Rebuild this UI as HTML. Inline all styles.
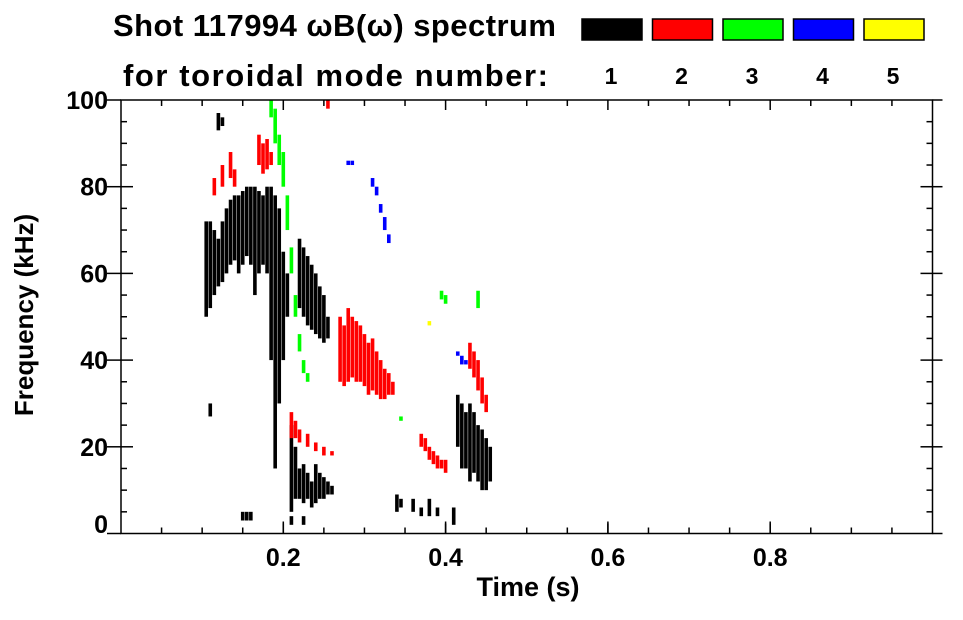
<!DOCTYPE html>
<html><head><meta charset="utf-8"><style>
body{margin:0;background:#fff;}
svg text{font-family:"Liberation Sans",sans-serif;font-weight:bold;fill:#000;}
</style></head><body>
<svg id="c" width="963" height="615" viewBox="0 0 963 615">
<text x="113" y="36" font-size="31" textLength="443">Shot 117994 ωB(ω) spectrum</text>
<text x="123" y="86" font-size="31" textLength="425">for toroidal mode number:</text>
<g id="legend"></g>
<g id="marks"></g>
<g id="axes"></g>
<text x="528" y="596" font-size="27" text-anchor="middle">Time (s)</text>
<text transform="translate(33,315) rotate(-90)" font-size="26" text-anchor="middle">Frequency (kHz)</text>
</svg>
<script>
const modeColors=['#000000','#ff0000','#00ff00','#0000ff','#ffff00'];
const modeLabels=['1','2','3','4','5'];
const xTicks=[0.2,0.4,0.6,0.8];
const yTicks=[0,20,40,60,80,100];
// columns: [time s, fLow kHz, fHigh kHz]
const mode1=[[0.105,50,72],[0.110,52,72],[0.115,55,70],[0.120,57,68],[0.125,58,72],[0.130,60,75],[0.135,62,77],[0.140,63,78],[0.145,60,78],[0.150,62,79],[0.155,64,80],[0.160,62,80],[0.165,55,80],[0.170,60,79],[0.175,62,78],[0.180,60,80],[0.185,40,80],[0.190,15,78],[0.195,30,75],[0.200,40,65],[0.205,50,60],
[0.120,93,97],[0.125,94,96],[0.110,27,30],
[0.220,52,68],[0.225,50,66],[0.230,48,64],[0.235,47,62],[0.240,46,60],[0.245,45,57],[0.250,44,55],[0.255,45,50],
[0.210,5,25],[0.215,8,20],[0.220,8,15],[0.225,7,16],[0.230,8,14],[0.235,6,12],[0.240,7,16],[0.245,8,14],[0.250,8,13],[0.255,9,12],[0.260,9,11],
[0.150,3,5],[0.155,3,5],[0.160,3,5],[0.210,2,4],[0.225,2,4],
[0.340,5,9],[0.345,6,8],[0.360,5,8],[0.370,4,6],[0.380,4,8],[0.390,4,6],[0.410,2,6],
[0.415,20,32],[0.420,15,30],[0.425,15,28],[0.430,12,30],[0.435,14,28],[0.440,12,25],[0.445,10,24],[0.450,10,22],[0.455,12,20]];
const mode2=[[0.115,78,82],[0.125,80,85],[0.135,82,88],[0.140,80,84],[0.170,85,92],[0.175,83,90],[0.180,84,91],[0.185,85,88],[0.255,98,100],
[0.210,22,28],[0.215,22,26],[0.220,21,24],[0.230,20,23],[0.240,19,21],[0.250,18,20],[0.260,18,19],
[0.270,35,50],[0.275,34,48],[0.280,35,52],[0.285,36,50],[0.290,35,49],[0.295,35,48],[0.300,34,46],[0.305,32,44],[0.310,33,45],[0.315,32,42],[0.320,31,40],[0.325,31,38],[0.330,32,37],[0.335,32,35],
[0.370,20,23],[0.375,19,22],[0.380,17,20],[0.385,16,19],[0.390,15,18],[0.395,15,17],[0.400,14,17],
[0.430,38,44],[0.435,36,42],[0.440,33,40],[0.445,30,36],[0.450,28,32]];
const mode3=[[0.185,96,100],[0.190,90,98],[0.195,85,92],[0.200,80,88],[0.205,70,78],[0.210,60,66],[0.215,50,55],[0.220,42,46],[0.225,37,40],[0.230,35,37],[0.345,26,27],[0.395,54,56],[0.400,53,55],[0.440,52,56]];
const mode4=[[0.280,85,86],[0.285,85,86],[0.310,80,82],[0.315,78,80],[0.320,74,76],[0.325,70,73],[0.330,67,69],[0.415,41,42],[0.420,39,41],[0.425,39,40]];
const mode5=[[0.380,48,49]];
const series=[mode1,mode2,mode3,mode4,mode5];

const NS='http://www.w3.org/2000/svg';
const L=121,R=932.5,T=100,B=533.5;
const xS=t=>L+t*(R-L);
const yS=f=>B-f/100*(B-T);
function mk(tag,attrs,parent){const e=document.createElementNS(NS,tag);for(const k in attrs)e.setAttribute(k,attrs[k]);parent.appendChild(e);return e;}
const lg=document.getElementById('legend');
modeColors.forEach((c,i)=>{
  const r=mk('rect',{x:582+i*70.5,y:19,width:60,height:21,fill:c,stroke:'#000','stroke-width':1.5},lg);
  
  
  const t=mk('text',{x:611+i*70.5,y:84,'font-size':23,'text-anchor':'middle'},lg);
  t.textContent=modeLabels[i];
  
  
});
const mg=document.getElementById('marks');
series.forEach((s,i)=>{
  s.forEach(d=>{
    const x=xS(d[0]),y1=yS(d[2]),y2=yS(d[1]);
    const r=mk('rect',{x:x-1.8,y:y1,width:3.6,height:Math.max(1.5,y2-y1),fill:modeColors[i]},mg);
    
    
  });
});
const ax=document.getElementById('axes');
mk('rect',{x:L,y:T,width:R-L,height:B-T,fill:'none',stroke:'#000','stroke-width':1.5},ax);
for(let k=1;k<20;k++){const t=k*0.05,x=xS(t),len=(k%4===0)?10:6;
  mk('line',{x1:x,y1:B,x2:x,y2:B-len,stroke:'#000','stroke-width':1.5},ax);
  mk('line',{x1:x,y1:T,x2:x,y2:T+len,stroke:'#000','stroke-width':1.5},ax);}
for(let k=1;k<20;k++){const f=k*5,y=yS(f),len=(k%4===0)?12:6;
  mk('line',{x1:L,y1:y,x2:L+len,y2:y,stroke:'#000','stroke-width':1.5},ax);
  mk('line',{x1:R,y1:y,x2:R-len,y2:y,stroke:'#000','stroke-width':1.5},ax);}
yTicks.forEach(v=>{const y=yS(v);
  mk('line',{x1:L-14,y1:y,x2:L,y2:y,stroke:'#000','stroke-width':1.5},ax);
  mk('line',{x1:R,y1:y,x2:R+10,y2:y,stroke:'#000','stroke-width':1.5},ax);
  const t=mk('text',{x:L-13,y:Math.min(y+9,533),'font-size':25,'text-anchor':'end'},ax);
  t.textContent=v;
  
  });
xTicks.forEach(v=>{const x=xS(v);
  mk('line',{x1:x,y1:B,x2:x,y2:B-12,stroke:'#000','stroke-width':1.5},ax);
  const t=mk('text',{x:x,y:566,'font-size':25,'text-anchor':'middle'},ax);
  t.textContent=v;
  
  });
</script>
</body></html>
